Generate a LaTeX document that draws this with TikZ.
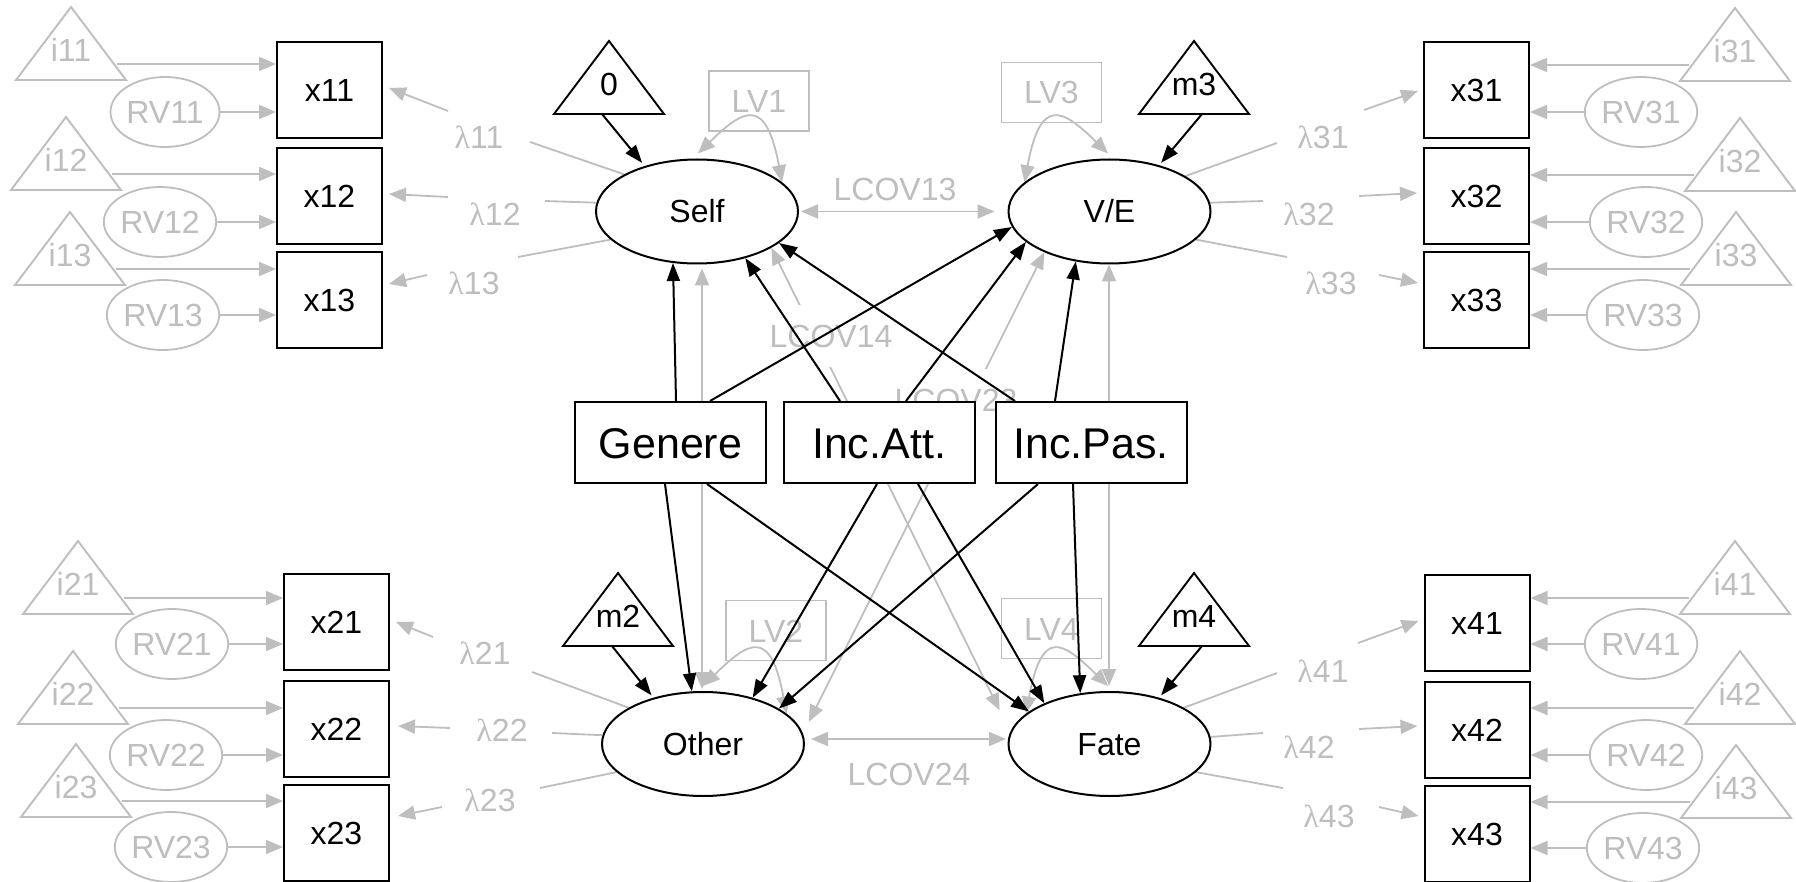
\documentclass[tikz,border=0pt]{standalone}
\usepackage{fontspec}
\setmainfont{Liberation Sans}
\newfontfamily\lamfont{Liberation Serif}
\usetikzlibrary{arrows.meta,shapes.geometric}
\definecolor{gcol}{RGB}{190,190,190}
\newcommand\semfontA{\fontsize{32}{38}\selectfont}
\newcommand\semfontB{\fontsize{43}{50}\selectfont}
\newcommand\lam{{\lamfont λ}}
\pgfdeclarelayer{back}
\pgfsetlayers{back,main}

% triangle node: name, apex x, apex y, text, colour, horizontal offset of its outgoing port
\newcommand\semtri[6]{%
  \draw[tri, draw=#5] (#2,#3) -- ++(55,73) -- ++(-110,0) -- cycle;
  \node[txt, text=#5] (#1) at (#2,#3+43) {#4};
  \coordinate (#1o) at ({#2+(#6)},{#3+57});
}

\tikzset{
  txt/.style={inner sep=0pt, text height=23pt, text depth=0pt, font=\semfontA},
  tri/.style={line width=1.9pt, line join=miter},
  mbox/.style={txt, draw, line width=2pt, minimum width=105pt, minimum height=96pt},
  cbox/.style={draw, fill=white, line width=2pt, minimum width=191pt, minimum height=81pt,
    inner sep=0pt, text height=31pt, text depth=0pt, font=\semfontB},
  latent/.style={txt, ellipse, draw, line width=2pt, minimum width=202pt, minimum height=104pt},
  rv/.style={txt, ellipse, draw=gcol, text=gcol, line width=1.8pt, minimum width=99pt, minimum height=70pt},
  lvbox/.style={txt, draw=gcol, text=gcol, line width=1.8pt, minimum width=100pt, minimum height=60pt},
  gtext/.style={txt, text=gcol},
  gmask/.style={fill=white, minimum height=62pt, inner xsep=2pt},
  gline/.style={draw=gcol, line width=1.8pt},
  garr/.style={gline, -{Triangle[length=17pt,width=14pt]}},
  gboth/.style={gline, {Triangle[length=17pt,width=14pt]}-{Triangle[length=17pt,width=14pt]}},
  barr/.style={draw=black, line width=2pt, -{Triangle[length=18pt,width=13pt]}},
}

\begin{document}
\begin{tikzpicture}[x=1pt,y=-1pt]
\begin{pgfonlayer}{back}
  \fill[white] (0,0) rectangle (1796,882);
\end{pgfonlayer}
\useasboundingbox (0,0) rectangle (1796,882);

% latent factors
\node[latent] (Self)  at (697,211.5)  {Self};
\node[latent] (VE)    at (1109.5,211.5) {V/E};
\node[latent] (Other) at (703,744)    {Other};
\node[latent] (Fate)  at (1109.5,744) {Fate};

% indicators
\node[mbox] (x11) at (329.5,90)    {x11};
\node[mbox] (x12) at (329.5,196.5) {x12};
\node[mbox] (x13) at (329.5,300.5) {x13};
\node[mbox] (x21) at (336.5,622)   {x21};
\node[mbox] (x22) at (336.5,729)   {x22};
\node[mbox] (x23) at (336.5,833)   {x23};
\node[mbox] (x31) at (1476.5,90)   {x31};
\node[mbox] (x32) at (1476.5,196.5) {x32};
\node[mbox] (x33) at (1476.5,300.5) {x33};
\node[mbox] (x41) at (1477,623)    {x41};
\node[mbox] (x42) at (1477,730)    {x42};
\node[mbox] (x43) at (1477,833.5)  {x43};

% covariates
\node[cbox] (Genere) at (670.5,442.5) {Genere};
\node[cbox] (IncAtt) at (879,442.5)   {Inc.Att.};
\node[cbox] (IncPas) at (1091,442.5)  {Inc.Pas.};

\begin{pgfonlayer}{back}
  % intercepts and residual variances of the indicators
  \semtri{i11}{71}{7}{i11}{gcol}{46}
  \semtri{i12}{66}{117}{i12}{gcol}{46}
  \semtri{i13}{70}{212}{i13}{gcol}{46}
  \semtri{i21}{78}{541}{i21}{gcol}{46}
  \semtri{i22}{73}{651}{i22}{gcol}{46}
  \semtri{i23}{76}{744}{i23}{gcol}{46}
  \semtri{i31}{1735}{8}{i31}{gcol}{-46}
  \semtri{i32}{1740}{118}{i32}{gcol}{-46}
  \semtri{i33}{1736}{212}{i33}{gcol}{-46}
  \semtri{i41}{1735}{541}{i41}{gcol}{-46}
  \semtri{i42}{1740}{651}{i42}{gcol}{-46}
  \semtri{i43}{1736}{745}{i43}{gcol}{-46}

  \node[rv] (RV11) at (165,112) {RV11};
  \node[rv] (RV12) at (160,222) {RV12};
  \node[rv] (RV13) at (163,315) {RV13};
  \node[rv] (RV21) at (172,644) {RV21};
  \node[rv] (RV22) at (166,755) {RV22};
  \node[rv] (RV23) at (171,847) {RV23};
  \node[rv] (RV31) at (1641,112) {RV31};
  \node[rv] (RV32) at (1646,222) {RV32};
  \node[rv] (RV33) at (1643,315) {RV33};
  \node[rv] (RV41) at (1641,644) {RV41};
  \node[rv] (RV42) at (1646,755) {RV42};
  \node[rv] (RV43) at (1643,848) {RV43};

  \foreach \i/\x in {11/x11,12/x12,13/x13,21/x21,22/x22,23/x23}{
    \draw[garr] (i\i o) -- (i\i o -| \x.west);
    \draw[garr] (RV\i) -- (RV\i -| \x.west);
  }
  \foreach \i/\x in {31/x31,32/x32,33/x33,41/x41,42/x42,43/x43}{
    \draw[garr] (i\i o) -- (i\i o -| \x.east);
    \draw[garr] (RV\i) -- (RV\i -| \x.east);
  }

  % loadings
  \node[gtext] (l11) at (479,137)  {\lam11};
  \node[gtext] (l12) at (495,214)  {\lam12};
  \node[gtext] (l13) at (474,283)  {\lam13};
  \node[gtext] (l21) at (485,653)  {\lam21};
  \node[gtext] (l22) at (502,730)  {\lam22};
  \node[gtext] (l23) at (490,800)  {\lam23};
  \node[gtext] (l31) at (1323,137) {\lam31};
  \node[gtext] (l32) at (1309,214) {\lam32};
  \node[gtext] (l33) at (1331,283) {\lam33};
  \node[gtext] (l41) at (1323,671) {\lam41};
  \node[gtext] (l42) at (1309,747) {\lam42};
  \node[gtext] (l43) at (1329,816) {\lam43};

  \coordinate (l11a) at (530,142);  \coordinate (l11b) at (448,111);
  \coordinate (l12a) at (545,201);  \coordinate (l12b) at (448,197);
  \coordinate (l13a) at (518,257);  \coordinate (l13b) at (427,275);
  \coordinate (l21a) at (532,672);  \coordinate (l21b) at (433,637);
  \coordinate (l22a) at (552,733);  \coordinate (l22b) at (450,728);
  \coordinate (l23a) at (540,788);  \coordinate (l23b) at (442,807);
  \coordinate (l31a) at (1277,143); \coordinate (l31b) at (1364,110);
  \coordinate (l32a) at (1263,201); \coordinate (l32b) at (1359,196);
  \coordinate (l33a) at (1287,257); \coordinate (l33b) at (1379,275);
  \coordinate (l41a) at (1277,673); \coordinate (l41b) at (1358,643);
  \coordinate (l42a) at (1263,733); \coordinate (l42b) at (1359,729);
  \coordinate (l43a) at (1283,788); \coordinate (l43b) at (1379,807);

  \draw[gline] (Self.153) -- (l11a);  \draw[garr] (l11b) -- ([xshift=6,yshift=2]x11.east);
  \draw[gline] (Self.175) -- (l12a);  \draw[garr] (l12b) -- ([xshift=6,yshift=2.5]x12.east);
  \draw[gline] (Self.198) -- (l13a);  \draw[garr] (l13b) -- ([xshift=6,yshift=16.5]x13.east);
  \draw[gline] (Other.154) -- (l21a); \draw[garr] (l21b) -- ([xshift=6]x21.east);
  \draw[gline] (Other.175) -- (l22a); \draw[garr] (l22b) -- ([xshift=8,yshift=3]x22.east);
  \draw[gline] (Other.198) -- (l23a); \draw[garr] (l23b) -- ([xshift=8,yshift=17]x23.east);
  \draw[gline] (VE.25) -- (l31a);     \draw[garr] (l31b) -- ([xshift=-5,yshift=-1]x31.west);
  \draw[gline] (VE.5) -- (l32a);      \draw[garr] (l32b) -- ([xshift=-6,yshift=3.5]x32.west);
  \draw[gline] (VE.342) -- (l33a);    \draw[garr] (l33b) -- ([xshift=-5,yshift=17.5]x33.west);
  \draw[gline] (Fate.26) -- (l41a);   \draw[garr] (l41b) -- ([xshift=-5,yshift=2]x41.west);
  \draw[gline] (Fate.4) -- (l42a);    \draw[garr] (l42b) -- ([xshift=-6,yshift=4]x42.west);
  \draw[gline] (Fate.342) -- (l43a);  \draw[garr] (l43b) -- ([xshift=-5,yshift=17.5]x43.west);

  % latent variances
  \node[lvbox] (LV1) at (759,101)    {LV1};
  \node[lvbox] (LV3) at (1051.5,92.5) {LV3};
  \node[lvbox] (LV2) at (776,630.5)  {LV2};
  \node[lvbox] (LV4) at (1051.5,628.5) {LV4};
  \draw[gboth] ([xshift=1,yshift=5]Self.north) .. controls +(46,-45) and +(-16,-86) .. (Self.19);
  \draw[gboth] ([xshift=-1.5,yshift=5]VE.north) .. controls +(-46,-45) and +(16,-86) .. (VE.161);
  \draw[gboth] ([yshift=5]Other.north) .. controls +(46,-45) and +(-16,-86) .. (Other.20);
  \draw[gboth] ([xshift=-1.5,yshift=5]Fate.north) .. controls +(-46,-45) and +(16,-86) .. (Fate.160);

  % latent covariances
  \draw[gboth, shorten <=2pt, shorten >=13pt] (Self.east) -- (VE.west);
  \draw[gboth, shorten <=6pt, shorten >=1.5pt] ([yshift=5]Other.east) -- ([yshift=5]Fate.west);
  \draw[gboth, shorten <=4pt, shorten >=2pt] ([xshift=5]Self.south) -- ([xshift=-1]Other.north);
  \draw[gboth, shorten >=5pt] ([xshift=-0.5]VE.south) -- ([xshift=-0.5]Fate.north);
  \draw[gboth, shorten >=24pt] (Self.334) -- (Fate.173);
  \draw[gboth, shorten >=13pt] (VE.212) -- (Other.6);
  \node[gtext] (lc13) at (895,189) {LCOV13};
  \node[gtext] (lc24) at (909,774) {LCOV24};
  \node[gtext, gmask] (lc14) at (831,336) {LCOV14};
  \node[gtext, gmask] (lc23) at (956,400) {LCOV23};
\end{pgfonlayer}

% latent means
\semtri{t0}{609}{41}{0}{black}{0}
\semtri{m3}{1194}{41}{m3}{black}{0}
\semtri{m2}{618}{573}{m2}{black}{0}
\semtri{m4}{1194}{573}{m4}{black}{0}
\draw[barr, shorten >=4pt] ([xshift=-7,yshift=-30]t0.center) -- (Self.139);
\draw[barr, shorten >=3pt] ([xshift=8,yshift=-30]m3.center) -- (VE.43);
\draw[barr, shorten >=3pt] ([xshift=-6,yshift=-30]m2.center) -- (Other.137);
\draw[barr, shorten >=3pt] ([xshift=8,yshift=-30]m4.center) -- (Fate.43);

% regressions on the covariates
\draw[barr] ([xshift=5.5]Genere.north) -- (Self.245);
\draw[barr] ([xshift=39.5]Genere.north) -- (VE.189);
\draw[barr] ([xshift=-39]IncAtt.north) -- (Self.316);
\draw[barr] ([xshift=27]IncAtt.north) -- (VE.200);
\draw[barr] ([xshift=-76]IncPas.north) -- (Self.339);
\draw[barr] ([xshift=-36]IncPas.north) -- (VE.236);
\draw[barr] ([xshift=-5.5]Genere.south) -- (Other.102);
\draw[barr] ([xshift=36.5]Genere.south) -- (Fate.158);
\draw[barr] ([xshift=-2]IncAtt.south) -- (Other.43);
\draw[barr] ([xshift=39]IncAtt.south) -- (Fate.148);
\draw[barr] ([xshift=-53]IncPas.south) -- (Other.25);
\draw[barr] ([xshift=-18]IncPas.south) -- (Fate.120);
\end{tikzpicture}
\end{document}
